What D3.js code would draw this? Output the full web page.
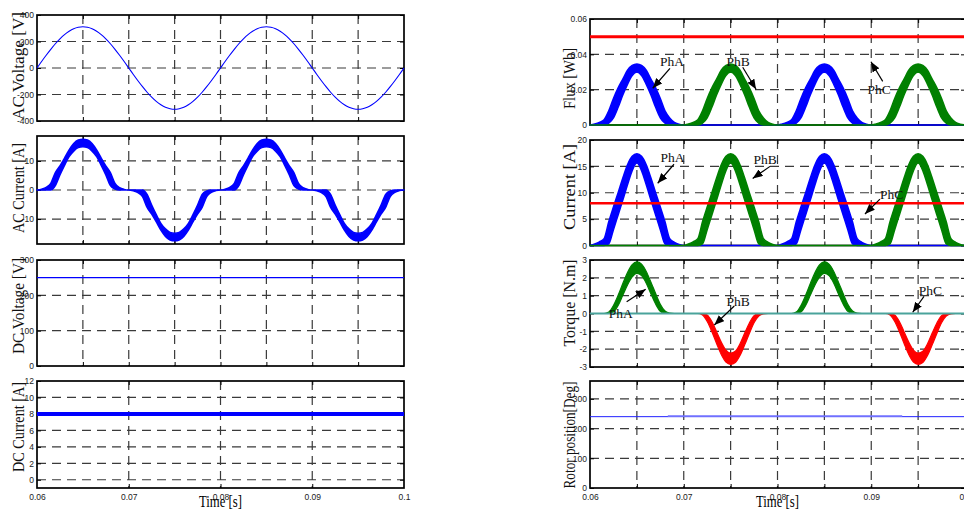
<!DOCTYPE html>
<html><head><meta charset="utf-8">
<script src="https://cdn.jsdelivr.net/npm/d3@7"></script>
<style>
html,body{margin:0;padding:0;background:#fff;}
svg{display:block;}
</style></head><body>
<svg id="chart" width="964" height="510"></svg>
<script>
// ---------------- DATA ----------------
const time = [
0.0600,0.0605,0.0610,0.0615,0.0620,0.0625,0.0630,0.0635,0.0640,0.0645,
0.0650,0.0655,0.0660,0.0665,0.0670,0.0675,0.0680,0.0685,0.0690,0.0695,
0.0700,0.0705,0.0710,0.0715,0.0720,0.0725,0.0730,0.0735,0.0740,0.0745,
0.0750,0.0755,0.0760,0.0765,0.0770,0.0775,0.0780,0.0785,0.0790,0.0795,
0.0800,0.0805,0.0810,0.0815,0.0820,0.0825,0.0830,0.0835,0.0840,0.0845,
0.0850,0.0855,0.0860,0.0865,0.0870,0.0875,0.0880,0.0885,0.0890,0.0895,
0.0900,0.0905,0.0910,0.0915,0.0920,0.0925,0.0930,0.0935,0.0940,0.0945,
0.0950,0.0955,0.0960,0.0965,0.0970,0.0975,0.0980,0.0985,0.0990,0.0995,
0.1000];

const acVoltage = [
0,49,96,141,183,220,252,277,296,307,311,307,296,277,252,220,183,141,96,49,
0,-49,-96,-141,-183,-220,-252,-277,-296,-307,-311,-307,-296,-277,-252,-220,-183,-141,-96,-49,
0,49,96,141,183,220,252,277,296,307,311,307,296,277,252,220,183,141,96,49,
0,-49,-96,-141,-183,-220,-252,-277,-296,-307,-311,-307,-296,-277,-252,-220,-183,-141,-96,-49,
0];

const acCurrentUpper = [
0,0.3,0.9,2.3,6.0,8.3,11.0,13.8,16.0,17.2,17.5,17.2,16.0,13.8,11.0,8.3,6.0,2.3,0.8,0.2,
0,0,0,0,-1.5,-5.2,-8.5,-11.5,-13.4,-14.6,-14.9,-14.6,-13.4,-11.5,-8.5,-5.2,-1.5,-0.3,0,0,
0,0.3,0.9,2.3,6.0,8.3,11.0,13.8,16.0,17.2,17.5,17.2,16.0,13.8,11.0,8.3,6.0,2.3,0.8,0.2,
0,0,0,0,-1.5,-5.2,-8.5,-11.5,-13.4,-14.6,-14.9,-14.6,-13.4,-11.5,-8.5,-5.2,-1.5,-0.3,0,0,
0];
const acCurrentLower = [
0,0,0,0,1.5,5.2,8.5,11.5,13.4,14.6,14.9,14.6,13.4,11.5,8.5,5.2,1.5,0.3,0,0,
0,-0.3,-0.9,-2.3,-6.0,-8.3,-11.0,-13.8,-16.0,-17.2,-17.5,-17.2,-16.0,-13.8,-11.0,-8.3,-6.0,-2.3,-0.8,-0.2,
0,0,0,0,1.5,5.2,8.5,11.5,13.4,14.6,14.9,14.6,13.4,11.5,8.5,5.2,1.5,0.3,0,0,
0,-0.3,-0.9,-2.3,-6.0,-8.3,-11.0,-13.8,-16.0,-17.2,-17.5,-17.2,-16.0,-13.8,-11.0,-8.3,-6.0,-2.3,-0.8,-0.2,
0];

const dcTime = [0.06, 0.1];
const dcVoltage = [250, 250];
const dcCurrent = [8, 8];

const fluxAUpper = [
0,0.0006,0.0015,0.003,0.008,0.015,0.021,0.026,0.031,0.0337,0.0345,0.0337,0.031,0.026,0.021,0.015,0.008,0.004,0.0015,0.0005,
0,0,0,0,0,0,0,0,0,0,0,0,0,0,0,0,0,0,0,0,
0,0.0006,0.0015,0.003,0.008,0.015,0.021,0.026,0.031,0.0337,0.0345,0.0337,0.031,0.026,0.021,0.015,0.008,0.004,0.0015,0.0005,
0,0,0,0,0,0,0,0,0,0,0,0,0,0,0,0,0,0,0,0,
0];
const fluxALower = [
0,0,0,0,0.001,0.004,0.010,0.017,0.023,0.028,0.030,0.028,0.023,0.017,0.010,0.004,0.001,0,0,0,
0,0,0,0,0,0,0,0,0,0,0,0,0,0,0,0,0,0,0,0,
0,0,0,0,0.001,0.004,0.010,0.017,0.023,0.028,0.030,0.028,0.023,0.017,0.010,0.004,0.001,0,0,0,
0,0,0,0,0,0,0,0,0,0,0,0,0,0,0,0,0,0,0,0,
0];
const fluxBUpper = [
0,0,0,0,0,0,0,0,0,0,0,0,0,0,0,0,0,0,0,0,
0,0.0006,0.0015,0.003,0.008,0.015,0.021,0.026,0.031,0.0337,0.0345,0.0337,0.031,0.026,0.021,0.015,0.008,0.004,0.0015,0.0005,
0,0,0,0,0,0,0,0,0,0,0,0,0,0,0,0,0,0,0,0,
0,0.0006,0.0015,0.003,0.008,0.015,0.021,0.026,0.031,0.0337,0.0345,0.0337,0.031,0.026,0.021,0.015,0.008,0.004,0.0015,0.0005,
0];
const fluxBLower = [
0,0,0,0,0,0,0,0,0,0,0,0,0,0,0,0,0,0,0,0,
0,0,0,0,0.001,0.004,0.010,0.017,0.023,0.028,0.030,0.028,0.023,0.017,0.010,0.004,0.001,0,0,0,
0,0,0,0,0,0,0,0,0,0,0,0,0,0,0,0,0,0,0,0,
0,0,0,0,0.001,0.004,0.010,0.017,0.023,0.028,0.030,0.028,0.023,0.017,0.010,0.004,0.001,0,0,0,
0];
const fluxC = [0.05, 0.05];

const curAUpper = [
0,0.3,0.7,1.3,4.5,7.3,10.0,12.8,15.3,16.9,17.4,16.9,15.3,12.8,10.0,7.3,4.5,1.3,0.6,0.2,
0,0,0,0,0,0,0,0,0,0,0,0,0,0,0,0,0,0,0,0,
0,0.3,0.7,1.3,4.5,7.3,10.0,12.8,15.3,16.9,17.4,16.9,15.3,12.8,10.0,7.3,4.5,1.3,0.6,0.2,
0,0,0,0,0,0,0,0,0,0,0,0,0,0,0,0,0,0,0,0,
0];
const curALower = [
0,0,0,0,0.3,3.0,5.8,8.6,11.5,14.2,15.7,14.2,11.5,8.6,5.8,3.0,0.3,0,0,0,
0,0,0,0,0,0,0,0,0,0,0,0,0,0,0,0,0,0,0,0,
0,0,0,0,0.3,3.0,5.8,8.6,11.5,14.2,15.7,14.2,11.5,8.6,5.8,3.0,0.3,0,0,0,
0,0,0,0,0,0,0,0,0,0,0,0,0,0,0,0,0,0,0,0,
0];
const curBUpper = [
0,0,0,0,0,0,0,0,0,0,0,0,0,0,0,0,0,0,0,0,
0,0.3,0.7,1.3,4.5,7.3,10.0,12.8,15.3,16.9,17.4,16.9,15.3,12.8,10.0,7.3,4.5,1.3,0.6,0.2,
0,0,0,0,0,0,0,0,0,0,0,0,0,0,0,0,0,0,0,0,
0,0.3,0.7,1.3,4.5,7.3,10.0,12.8,15.3,16.9,17.4,16.9,15.3,12.8,10.0,7.3,4.5,1.3,0.6,0.2,
0];
const curBLower = [
0,0,0,0,0,0,0,0,0,0,0,0,0,0,0,0,0,0,0,0,
0,0,0,0,0.3,3.0,5.8,8.6,11.5,14.2,15.7,14.2,11.5,8.6,5.8,3.0,0.3,0,0,0,
0,0,0,0,0,0,0,0,0,0,0,0,0,0,0,0,0,0,0,0,
0,0,0,0,0.3,3.0,5.8,8.6,11.5,14.2,15.7,14.2,11.5,8.6,5.8,3.0,0.3,0,0,0,
0];
const curC = [8, 8];

const torqueAUpper = [
0,0,0,0,0.08,0.45,1.02,1.68,2.3,2.74,2.9,2.77,2.36,1.76,1.12,0.52,0.14,0.02,0,0,
0,0,0,0,0,0,0,0,0,0,0,0,0,0,0,0,0,0,0,0,
0,0,0,0,0.08,0.45,1.02,1.68,2.3,2.74,2.9,2.77,2.36,1.76,1.12,0.52,0.14,0.02,0,0,
0,0,0,0,0,0,0,0,0,0,0,0,0,0,0,0,0,0,0,0,
0];
const torqueALower = [
0,0,0,0,0,0.08,0.45,1.02,1.6,2.05,2.25,2.12,1.7,1.1,0.53,0.12,0,0,0,0,
0,0,0,0,0,0,0,0,0,0,0,0,0,0,0,0,0,0,0,0,
0,0,0,0,0,0.08,0.45,1.02,1.6,2.05,2.25,2.12,1.7,1.1,0.53,0.12,0,0,0,0,
0,0,0,0,0,0,0,0,0,0,0,0,0,0,0,0,0,0,0,0,
0];
const torqueBUpper = [
0,0,0,0,0,0,0,0,0,0,0,0,0,0,0,0,0,0,0,0,
0,0,0,0,0,-0.08,-0.45,-1.02,-1.6,-2.05,-2.22,-2.12,-1.7,-1.1,-0.53,-0.12,0,0,0,0,
0,0,0,0,0,0,0,0,0,0,0,0,0,0,0,0,0,0,0,0,
0,0,0,0,0,-0.08,-0.45,-1.02,-1.6,-2.05,-2.22,-2.12,-1.7,-1.1,-0.53,-0.12,0,0,0,0,
0];
const torqueBLower = [
0,0,0,0,0,0,0,0,0,0,0,0,0,0,0,0,0,0,0,0,
0,0,0,0,-0.08,-0.45,-1.02,-1.68,-2.3,-2.72,-2.85,-2.75,-2.36,-1.76,-1.12,-0.52,-0.14,-0.02,0,0,
0,0,0,0,0,0,0,0,0,0,0,0,0,0,0,0,0,0,0,0,
0,0,0,0,-0.08,-0.45,-1.02,-1.68,-2.3,-2.72,-2.85,-2.75,-2.36,-1.76,-1.12,-0.52,-0.14,-0.02,0,0,
0];
const torqueC = [0, 0];

const rotorTime = [0.06, 0.1];
const rotorPos = [240, 240];
const rotorSegTime = [0.0683, 0.0933];
const rotorSegPos = [241.5, 241.5];

// ticks
const xTicks = [0.06, 0.07, 0.08, 0.09, 0.1];
const xGridFine = [0.065, 0.07, 0.075, 0.08, 0.085, 0.09, 0.095];
const xGridCoarse = [0.07, 0.08, 0.09];
const acVoltTicks = [-400, -200, 0, 200, 400];
const acCurTicks = [-10, 0, 10];
const dcVoltTicks = [0, 100, 200, 300];
const dcCurTicks = [0, 2, 4, 6, 8, 10, 12];
const fluxTicks = [0, 0.02, 0.04, 0.06];
const curTicks = [0, 5, 10, 15, 20];
const torqueTicks = [-3, -2, -1, 0, 1, 2, 3];
const rotorTicks = [0, 100, 200, 300];

// annotations: [label, textT, textV, tailT, tailV, headT, headV]
const fluxNotes = [
  ['PhA', 0.06875, 0.0334, 0.06853, 0.0321, 0.06669, 0.0208],
  ['PhB', 0.07579, 0.0334, 0.07629, 0.0327, 0.07771, 0.0202],
  ['PhC', 0.09083, 0.0175, 0.09122, 0.0247, 0.08997, 0.0358]
];
const curNotes = [
  ['PhA', 0.0688, 15.9, 0.06896, 15.4, 0.06722, 11.8],
  ['PhB', 0.07867, 15.5, 0.0792, 15.0, 0.07735, 12.7],
  ['PhC', 0.09218, 8.85, 0.09093, 8.8, 0.08933, 5.97]
];
const torqueNotes = [
  ['PhA', 0.06329, -0.25, 0.06391, 0.66, 0.06594, 1.36],
  ['PhB', 0.07579, 0.42, 0.07539, 0.42, 0.07326, -0.645],
  ['PhC', 0.09632, 1.04, 0.09563, 0.96, 0.09442, 0.07]
];

// ---------------- DRAW ----------------
const svg = d3.select('#chart');
const BLUE = '#0000ff', GREEN = '#008000', RED = '#ff0000', TEAL = '#4aa39b';
const GRID = '#3a3a3a';
const SANS = '"Liberation Sans", Arial, sans-serif';
const SERIF = '"Liberation Serif", "Times New Roman", serif';

svg.append('defs').append('marker')
  .attr('id', 'arrow').attr('viewBox', '0 0 10 8').attr('refX', 10).attr('refY', 4)
  .attr('markerWidth', 10).attr('markerHeight', 8).attr('markerUnits', 'userSpaceOnUse')
  .attr('orient', 'auto')
  .append('path').attr('d', 'M0,0L10,4L0,8Z').attr('fill', '#000');

const xL = d3.scaleLinear().domain([0.06, 0.1]).range([37, 404]);
const xR = d3.scaleLinear().domain([0.06, 0.1]).range([590, 965]);
const fmt = d => String(d);

function drawPanel(x, p) {
  const y = d3.scaleLinear().domain(p.domain).range([p.bottom, p.top]);
  const [x0, x1] = x.range();
  const g = svg.append('g');
  const gridY = p.ticks.filter(d => d > p.domain[0] && d < p.domain[1]);
  g.selectAll(null).data(p.xGrid).join('line')
    .attr('x1', d => x(d)).attr('x2', d => x(d)).attr('y1', p.top).attr('y2', p.bottom)
    .attr('stroke', GRID).attr('stroke-width', 1.2).attr('stroke-dasharray', '9,6');
  g.selectAll(null).data(gridY).join('line')
    .attr('x1', x0).attr('x2', x1).attr('y1', d => y(d)).attr('y2', d => y(d))
    .attr('stroke', GRID).attr('stroke-width', 1.2).attr('stroke-dasharray', '9,6');
  g.append('rect').attr('x', x0).attr('y', p.top).attr('width', x1 - x0).attr('height', p.bottom - p.top)
    .attr('fill', 'none').attr('stroke', '#000').attr('stroke-width', 1.7);

  const left = g.append('g').attr('transform', `translate(${x0},0)`)
    .call(d3.axisLeft(y).tickValues(p.ticks).tickSize(-4).tickPadding(3).tickFormat(fmt));
  const right = g.append('g').attr('transform', `translate(${x1},0)`)
    .call(d3.axisRight(y).tickValues(p.ticks).tickSize(-4).tickFormat(''));
  const top = g.append('g').attr('transform', `translate(0,${p.top})`)
    .call(d3.axisTop(x).tickValues(p.xGrid).tickSize(-4).tickFormat(''));
  const bot = g.append('g').attr('transform', `translate(0,${p.bottom})`)
    .call(d3.axisBottom(x).tickValues(p.xGrid).tickSize(-4).tickFormat(''));
  [left, right, top, bot].forEach(a => {
    a.select('.domain').remove();
    a.selectAll('.tick line').attr('stroke', '#000').attr('stroke-width', 1);
    a.selectAll('text').attr('font-family', SANS).attr('font-size', 8.5).attr('fill', '#222');
  });
  if (p.xLabels) {
    const lab = g.append('g').attr('transform', `translate(0,${p.bottom})`)
      .call(d3.axisBottom(x).tickValues(xTicks).tickSize(0).tickPadding(6).tickFormat(fmt));
    lab.select('.domain').remove();
    lab.selectAll('text').attr('font-family', SANS).attr('font-size', 8.5).attr('fill', '#222');
    svg.append('text').attr('x', (x0 + x1) / 2).attr('y', 507)
      .attr('text-anchor', 'middle').attr('font-family', SERIF).attr('font-size', 16.5)
      .attr('textLength', 43).attr('lengthAdjust', 'spacingAndGlyphs').text('Time [s]');
  }
  svg.append('text').attr('transform', `translate(${p.labelX},${p.labelY}) rotate(-90)`)
    .attr('text-anchor', 'middle').attr('font-family', SERIF).attr('font-size', 16.5)
    .attr('textLength', p.labelLen).attr('lengthAdjust', 'spacingAndGlyphs').attr('fill', '#111')
    .text(p.label);
  return {g: svg.append('g'), x, y};
}

function band(P, upper, lower, color, sw) {
  const data = time.map((t, i) => ({t, hi: upper[i], lo: lower[i]}));
  const area = d3.area().x(d => P.x(d.t)).y0(d => P.y(d.lo)).y1(d => P.y(d.hi)).curve(d3.curveMonotoneX);
  P.g.append('path').datum(data).attr('d', area)
    .attr('fill', color).attr('stroke', color).attr('stroke-width', sw).attr('stroke-linejoin', 'round');
}
function line(P, ts, vs, color, sw, curve) {
  const data = ts.map((t, i) => ({t, v: vs[i]}));
  const ln = d3.line().x(d => P.x(d.t)).y(d => P.y(d.v)).curve(curve || d3.curveLinear);
  P.g.append('path').datum(data).attr('d', ln).attr('fill', 'none')
    .attr('stroke', color).attr('stroke-width', sw);
}
function notes(P, list) {
  list.forEach(n => {
    P.g.append('line').attr('x1', P.x(n[3])).attr('y1', P.y(n[4]))
      .attr('x2', P.x(n[5])).attr('y2', P.y(n[6]))
      .attr('stroke', '#000').attr('stroke-width', 1.2).attr('marker-end', 'url(#arrow)');
    P.g.append('text').attr('x', P.x(n[1])).attr('y', P.y(n[2]))
      .attr('text-anchor', 'middle').attr('font-family', SERIF).attr('font-size', 13.5)
      .attr('fill', '#111').text(n[0]);
  });
}

// Left column
const pAV = drawPanel(xL, {top: 15, bottom: 121, domain: [-400, 400], ticks: acVoltTicks, xGrid: xGridFine,
  label: 'AC Voltage [V]', labelX: 24, labelY: 66, labelLen: 108});
line(pAV, time, acVoltage, BLUE, 1.1, d3.curveMonotoneX);

const pAC = drawPanel(xL, {top: 136, bottom: 244, domain: [-18.6, 18.6], ticks: acCurTicks, xGrid: xGridFine,
  label: 'AC Current [A]', labelX: 24, labelY: 188, labelLen: 90});
band(pAC, acCurrentUpper, acCurrentLower, BLUE, 1.5);

const pDV = drawPanel(xL, {top: 260, bottom: 366, domain: [0, 300], ticks: dcVoltTicks, xGrid: xGridFine,
  label: 'DC Voltage [V]', labelX: 24, labelY: 306, labelLen: 96});
line(pDV, dcTime, dcVoltage, BLUE, 1.2);

const pDC = drawPanel(xL, {top: 381, bottom: 488, domain: [-1, 12], ticks: dcCurTicks, xGrid: xGridCoarse,
  label: 'DC Current [A]', labelX: 24, labelY: 427, labelLen: 90, xLabels: true});
line(pDC, dcTime, dcCurrent, BLUE, 4);

// Right column
const pFX = drawPanel(xR, {top: 19, bottom: 125, domain: [0, 0.06], ticks: fluxTicks, xGrid: xGridFine,
  label: 'Flux [Wb]', labelX: 575, labelY: 78.5, labelLen: 61});
band(pFX, fluxAUpper, fluxALower, BLUE, 1.5);
band(pFX, fluxBUpper, fluxBLower, GREEN, 1.5);
line(pFX, dcTime, fluxC, RED, 3);
notes(pFX, fluxNotes);

const pCU = drawPanel(xR, {top: 140, bottom: 245.5, domain: [0, 20], ticks: curTicks, xGrid: xGridFine,
  label: 'Current [A]', labelX: 575, labelY: 187, labelLen: 86});
band(pCU, curAUpper, curALower, BLUE, 1.5);
band(pCU, curBUpper, curBLower, GREEN, 1.5);
line(pCU, dcTime, curC, RED, 2.6);
notes(pCU, curNotes);

const pTQ = drawPanel(xR, {top: 260, bottom: 367, domain: [-3, 3], ticks: torqueTicks, xGrid: xGridFine,
  label: 'Torque [N.m]', labelX: 575, labelY: 303, labelLen: 87});
band(pTQ, torqueAUpper, torqueALower, GREEN, 1.2);
band(pTQ, torqueBUpper, torqueBLower, RED, 1.2);
line(pTQ, dcTime, torqueC, TEAL, 2);
notes(pTQ, torqueNotes);

const pRP = drawPanel(xR, {top: 381, bottom: 488, domain: [0, 360], ticks: rotorTicks, xGrid: xGridFine,
  label: 'Rotor position[Deg]', labelX: 575, labelY: 435, labelLen: 107, xLabels: true});
line(pRP, rotorTime, rotorPos, '#2020ff', 1);
line(pRP, rotorSegTime, rotorSegPos, '#7070ff', 1.8);
</script>
</body></html>
